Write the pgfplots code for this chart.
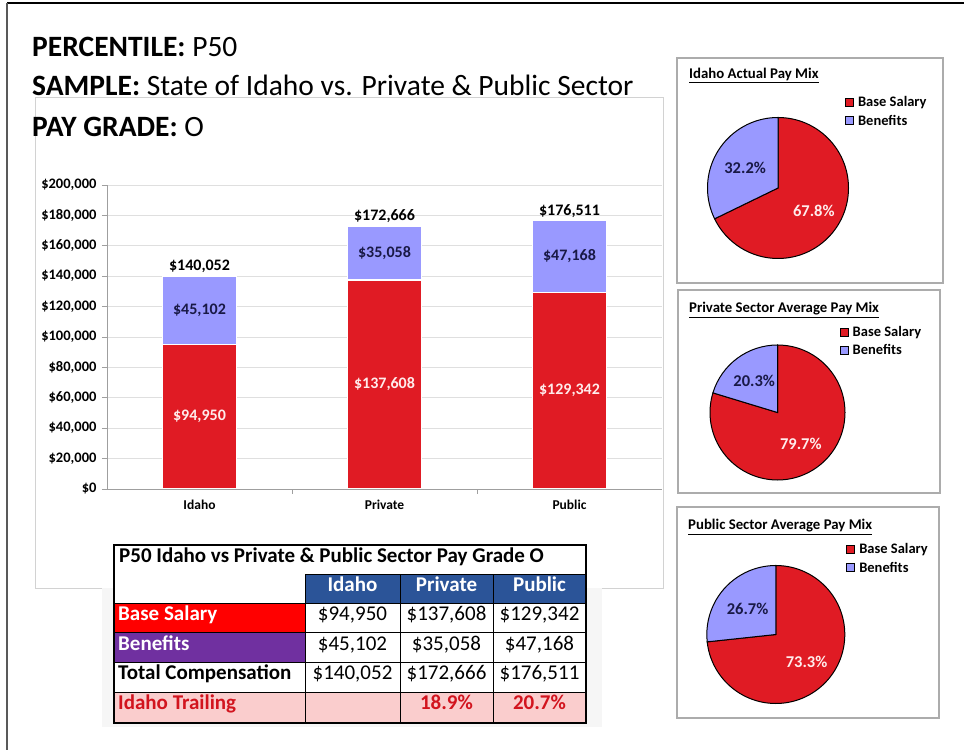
\documentclass[border=0pt]{standalone}
\usepackage{fontspec}
\setmainfont{Carlito}
\usepackage{pgfplots}
\pgfplotsset{compat=1.18}
\definecolor{barRed}{RGB}{224,27,36}
\definecolor{barBlue}{RGB}{153,153,255}
\definecolor{hdrBlue}{RGB}{43,84,152}
\definecolor{lblRed}{RGB}{255,0,0}
\definecolor{lblPurple}{RGB}{112,48,160}
\definecolor{trailPink}{RGB}{250,205,205}
\definecolor{trailText}{RGB}{210,20,30}
\definecolor{navyTxt}{RGB}{25,25,70}
\definecolor{lightTxt}{RGB}{255,236,236}
\newcommand{\fs}[1]{\fontsize{#1}{#1}\selectfont}
\pgfplotsset{
  pieaxis/.style={anchor=south west, scale only axis, xmin=-1, xmax=1, ymin=-1, ymax=1, hide axis, clip=false,
    legend style={draw=none, fill=none, font=\bfseries\fs{14.5}, anchor=north west, inner sep=0pt, row sep=3pt},
    legend cell align=left,
    legend image code/.code={\draw[##1] (0pt,-4pt) rectangle (8pt,4pt); \path (10.5pt,0pt);}},
  labaxis/.style={anchor=south west, scale only axis, width=555pt, height=304pt, xmin=-0.5, xmax=2.5, ymin=0, ymax=200000, hide axis, clip=false,
    /pgf/number format/.cd, fixed, precision=0, 1000 sep={,}, assume math mode=true}
}
\begin{document}
\begin{tikzpicture}[x=1pt,y=1pt]
\path[use as bounding box] (0,0) rectangle (964,750);
\fill[white] (0,0) rectangle (964,750);
\draw[black, line width=2pt] (7,747) -- (964,747);
\draw[black!65, line width=1.2pt] (7,747) -- (7,0);

% chart panel
\draw[gray!35, line width=0.8pt, fill=white] (35,162) rectangle (663,653);
\fill[gray!7] (102,23) rectangle (602,162);

% titles
\node[anchor=base west, inner sep=0] at (32,693) {\fs{29.5}\textbf{PERCENTILE:} P50};
\node[anchor=base west, inner sep=0] at (32,654) {\fs{29.5}\textbf{SAMPLE:} State of Idaho vs. Private \& Public Sector};
\node[anchor=base west, inner sep=0] at (32,613) {\fs{29.5}\textbf{PAY GRADE:} O};

% stacked bar chart
\begin{axis}[at={(107pt,261pt)}, anchor=south west, scale only axis, width=555pt, height=304pt,
  ybar stacked, bar width=74pt,
  xmin=-0.5, xmax=2.5, ymin=0, ymax=200000,
  ytick={0,20000,...,200000}, scaled y ticks=false,
  xtick={0.5,1.5}, xticklabels={,},
  extra x ticks={0,1,2}, extra x tick labels={Idaho,Private,Public},
  extra x tick style={major tick length=0pt, grid=none},
  ymajorgrids, grid style={gray!25, line width=0.8pt},
  axis x line*=bottom, axis y line*=left,
  axis line style={gray!75, line width=0.8pt}, tick style={gray!75, line width=0.8pt},
  tick align=outside, major tick length=5pt,
  yticklabel={\$\pgfmathprintnumber{\tick}},
  yticklabel style={font=\bfseries\fs{14.5}, xshift=-2pt},
  xticklabel style={font=\bfseries\fs{13.5}, yshift=-7pt},
  /pgf/number format/.cd, fixed, precision=0, 1000 sep={,}, assume math mode=true]
\addplot[fill=barRed, draw=white, line width=1.5pt] coordinates {(0,94950) (1,137608) (2,129342)};
\addplot[fill=barBlue, draw=white, line width=1.5pt] coordinates {(0,45102) (1,35058) (2,47168)};
\end{axis}

% value labels
\begin{axis}[at={(107pt,261pt)}, labaxis]
\addplot[draw=none, mark=none, point meta=explicit,
  nodes near coords={\$\pgfmathprintnumber{\pgfplotspointmeta}},
  every node near coord/.append style={anchor=center, font=\bfseries\fs{16}, text=lightTxt}]
  coordinates {(0,47475) [94950] (1,68804) [137608] (2,64671) [129342]};
\addplot[draw=none, mark=none, point meta=explicit,
  nodes near coords={\$\pgfmathprintnumber{\pgfplotspointmeta}},
  every node near coord/.append style={anchor=center, font=\bfseries\fs{16}, text=navyTxt}]
  coordinates {(0,117501) [45102] (1,155137) [35058] (2,152926) [47168]};
\addplot[draw=none, mark=none, point meta=explicit,
  nodes near coords={\$\pgfmathprintnumber{\pgfplotspointmeta}},
  every node near coord/.append style={anchor=south, font=\bfseries\fs{16}, text=black, yshift=0pt}]
  coordinates {(0,140052) [140052] (1,172666) [172666] (2,176511) [176511]};
\end{axis}

% table
\fill[white] (114,27) rectangle (586,205);
\fill[hdrBlue] (305,146) rectangle (586,175);
\fill[lblRed] (114,117) rectangle (305,146);
\fill[lblPurple] (114,87) rectangle (305,117);
\fill[trailPink] (114,27) rectangle (586,58);
\draw[line width=1pt] (305,175) -- (586,175);
\foreach \yy in {146,117,87,58} \draw[line width=1pt] (114,\yy) -- (586,\yy);
\foreach \xx in {305,400,493} \draw[line width=1pt] (\xx,27) -- (\xx,175);
\draw[line width=1.8pt] (114,27) rectangle (586,205);
\node[anchor=mid west, inner sep=0] at (119,190) {\bfseries\fs{21}P50 Idaho vs Private \& Public Sector Pay Grade O};
\begin{scope}[every node/.style={anchor=mid, inner sep=0, font=\fs{21}}]
\node[text=white, font=\bfseries\fs{21}] at (352.5,160.5) {Idaho};
\node[text=white, font=\bfseries\fs{21}] at (446.5,160.5) {Private};
\node[text=white, font=\bfseries\fs{21}] at (539.5,160.5) {Public};
\node[anchor=mid west, text=white, font=\bfseries\fs{21}] at (118,131.5) {Base Salary};
\node[anchor=mid west, text=white, font=\bfseries\fs{21}] at (118,102) {Benefits};
\node[anchor=mid west, font=\bfseries\fs{21}] at (118,72.5) {Total Compensation};
\node[anchor=mid west, text=trailText, font=\bfseries\fs{21}] at (118,42.5) {Idaho Trailing};
\node at (352.5,131.5) {\$94,950};
\node at (446.5,131.5) {\$137,608};
\node at (539.5,131.5) {\$129,342};
\node at (352.5,102) {\$45,102};
\node at (446.5,102) {\$35,058};
\node at (539.5,102) {\$47,168};
\node at (352.5,72.5) {\$140,052};
\node at (446.5,72.5) {\$172,666};
\node at (539.5,72.5) {\$176,511};
\node[text=trailText, font=\bfseries\fs{21}] at (446.5,42.5) {18.9\%};
\node[text=trailText, font=\bfseries\fs{21}] at (539.5,42.5) {20.7\%};
\end{scope}

% pie panels
\draw[gray!65, line width=1.3pt, fill=white] (677,467) rectangle (943,692);
\draw[gray!65, line width=1.3pt, fill=white] (678,257) rectangle (940,460);
\draw[gray!65, line width=1.3pt, fill=white] (677,32) rectangle (939,243);
\node[anchor=west, inner sep=0] at (689,675) {\bfseries\fs{14.8}\underline{Idaho Actual Pay Mix}};
\node[anchor=west, inner sep=0] at (689,440) {\bfseries\fs{14.8}\underline{Private Sector Average Pay Mix}};
\node[anchor=west, inner sep=0] at (688,223) {\bfseries\fs{14.8}\underline{Public Sector Average Pay Mix}};

% pie 1
\begin{axis}[pieaxis, at={(707.5pt,491.5pt)}, width=141pt, height=141pt, legend style={at={(0.975,1.167)}}]
\addlegendimage{fill=barRed, draw=black}
\addlegendentry{Base Salary}
\addlegendimage{fill=barBlue, draw=black}
\addlegendentry{Benefits}
\fill[barRed, draw=black, line width=1pt] (axis cs:0,0) -- (axis cs:0,1) arc[start angle=90, end angle={90-3.6*67.8}, radius=70.5pt] -- cycle;
\fill[barBlue, draw=black, line width=1pt] (axis cs:0,0) -- (axis cs:0,1) arc[start angle=90, end angle={90+3.6*32.2}, radius=70.5pt] -- cycle;
\path (axis cs:0,0) ++({90-1.8*67.8}:{0.6*70.5pt}) node[font=\bfseries\fs{16.5}, text=lightTxt] {67.8\%};
\path (axis cs:0,0) ++({90+1.8*32.2}:{0.55*70.5pt}) node[font=\bfseries\fs{16.5}, text=navyTxt] {32.2\%};
\end{axis}

% pie 2
\begin{axis}[pieaxis, at={(710pt,270pt)}, width=135pt, height=135pt, legend style={at={(0.96,1.157)}}]
\addlegendimage{fill=barRed, draw=black}
\addlegendentry{Base Salary}
\addlegendimage{fill=barBlue, draw=black}
\addlegendentry{Benefits}
\fill[barRed, draw=black, line width=1pt] (axis cs:0,0) -- (axis cs:0,1) arc[start angle=90, end angle={90-3.6*79.7}, radius=67.5pt] -- cycle;
\fill[barBlue, draw=black, line width=1pt] (axis cs:0,0) -- (axis cs:0,1) arc[start angle=90, end angle={90+3.6*20.3}, radius=67.5pt] -- cycle;
\path (axis cs:0,0) ++({90-1.8*79.7}:{0.58*67.5pt}) node[font=\bfseries\fs{16.5}, text=lightTxt] {79.7\%};
\path (axis cs:0,0) ++({90+1.8*20.3}:{0.58*67.5pt}) node[font=\bfseries\fs{16.5}, text=navyTxt] {20.3\%};
\end{axis}

% pie 3
\begin{axis}[pieaxis, at={(706.8pt,46.5pt)}, width=138pt, height=138pt, legend style={at={(1.01,1.178)}}]
\addlegendimage{fill=barRed, draw=black}
\addlegendentry{Base Salary}
\addlegendimage{fill=barBlue, draw=black}
\addlegendentry{Benefits}
\fill[barRed, draw=black, line width=1pt] (axis cs:0,0) -- (axis cs:0,1) arc[start angle=90, end angle={90-3.6*73.3}, radius=69pt] -- cycle;
\fill[barBlue, draw=black, line width=1pt] (axis cs:0,0) -- (axis cs:0,1) arc[start angle=90, end angle={90+3.6*26.7}, radius=69pt] -- cycle;
\path (axis cs:0,0) ++({90-1.8*73.3}:{0.6*69pt}) node[font=\bfseries\fs{16.5}, text=lightTxt] {73.3\%};
\path (axis cs:0,0) ++({90+1.8*26.7}:{0.55*69pt}) node[font=\bfseries\fs{16.5}, text=navyTxt] {26.7\%};
\end{axis}
\end{tikzpicture}
\end{document}
